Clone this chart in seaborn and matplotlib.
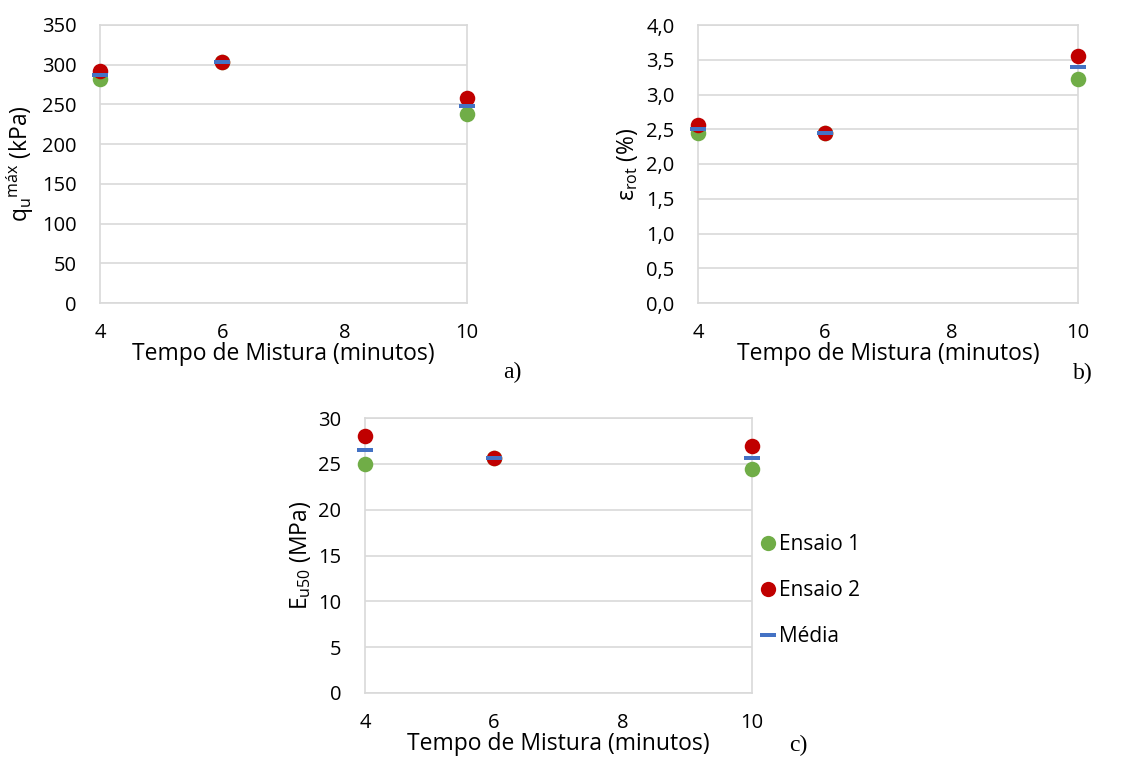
import matplotlib
matplotlib.use("Agg")
import matplotlib.pyplot as plt
import seaborn as sns
import pandas as pd
import numpy as np
from matplotlib.path import Path
from matplotlib.lines import Line2D

sns.set_theme(style="white")
plt.rcParams['font.family'] = ['Open Sans', 'DejaVu Sans']
plt.rcParams['mathtext.fontset'] = 'custom'
plt.rcParams['mathtext.rm'] = 'Open Sans'
plt.rcParams['mathtext.it'] = 'Open Sans'
plt.rcParams['text.color'] = 'black'

# ---- data ----
tempo = [4, 6, 10]
qu_ensaio1 = [282, 303, 238]
qu_ensaio2 = [292, 304, 258]
qu_media = [287, 303.5, 248]

eps_ensaio1 = [2.44, 2.44, 3.22]
eps_ensaio2 = [2.56, 2.45, 3.56]
eps_media = [2.50, 2.445, 3.39]

E_ensaio1 = [25.0, 25.6, 24.4]
E_ensaio2 = [28.0, 25.6, 26.9]
E_media = [26.5, 25.6, 25.6]

series_labels = ["Ensaio 1", "Ensaio 2", "Média"]
xlabel = "Tempo de Mistura (minutos)"

GREEN = "#70AD47"
RED = "#C00000"
BLUE = "#4472C4"
GRID = "#D9D9D9"
TXT = "#000000"

W, H = 1126, 769
fig = plt.figure(figsize=(W / 100, H / 100), dpi=100)
fig.patch.set_facecolor("white")

def add_ax(l, r, t, b):
    return fig.add_axes([l / W, 1 - b / H, (r - l) / W, (b - t) / H])

dash = Path([(-1, -0.28), (1, -0.28), (1, 0.28), (-1, 0.28), (-1, -0.28)],
            [Path.MOVETO, Path.LINETO, Path.LINETO, Path.LINETO, Path.CLOSEPOLY])

FS = 14.5
LFS = 16.5

def panel(ax, e1, e2, med, ymax, ystep, ylabel, fmt):
    df = pd.DataFrame({"x": tempo * 3,
                       "y": e1 + e2 + med,
                       "s": [series_labels[0]] * 3 + [series_labels[1]] * 3 + [series_labels[2]] * 3})
    sns.scatterplot(data=df[df.s == series_labels[0]], x="x", y="y", ax=ax, color=GREEN,
                    s=125, linewidth=0, marker="o", zorder=3, legend=False)
    sns.scatterplot(data=df[df.s == series_labels[1]], x="x", y="y", ax=ax, color=RED,
                    s=125, linewidth=0, marker="o", zorder=4, legend=False)
    sns.scatterplot(data=df[df.s == series_labels[2]], x="x", y="y", ax=ax, color=BLUE,
                    s=125, linewidth=0, marker=dash, zorder=5, legend=False)
    ax.set_xlim(4, 10)
    ax.set_ylim(0, ymax)
    ax.set_xticks([4, 6, 8, 10])
    yt = np.arange(0, ymax + ystep / 2, ystep)
    ax.set_yticks(yt)
    ax.set_yticklabels([fmt(v) for v in yt])
    ax.yaxis.grid(True, color=GRID, lw=1.2)
    ax.xaxis.grid(False)
    for sp in ax.spines.values():
        sp.set_color(GRID)
        sp.set_linewidth(1.2)
    ax.tick_params(axis="both", length=0, labelsize=FS, colors=TXT)
    ax.tick_params(axis="y", pad=17)
    ax.tick_params(axis="x", pad=14.5)
    ax.set_xlabel(xlabel, fontsize=LFS, color=TXT, labelpad=-1)
    ax.set_ylabel(ylabel, fontsize=LFS, color=TXT, labelpad=4)
    for c in ax.collections:
        c.set_clip_on(False)

ax_a = add_ax(100, 467, 25, 303)
panel(ax_a, qu_ensaio1, qu_ensaio2, qu_media, 350, 50,
      r"q$_\mathregular{u}$$^\mathregular{máx}$ (kPa)", lambda v: f"{int(v)}")

ax_b = add_ax(698, 1078, 25, 303)
panel(ax_b, eps_ensaio1, eps_ensaio2, eps_media, 4.0, 0.5,
      r"ε$_\mathregular{rot}$ (%)", lambda v: f"{v:.1f}".replace(".", ","))

ax_c = add_ax(365, 752, 418, 693)
panel(ax_c, E_ensaio1, E_ensaio2, E_media, 30, 5,
      r"E$_\mathregular{u50}$ (MPa)", lambda v: f"{int(v)}")

handles = [Line2D([], [], ls="none", marker="o", color=GREEN, markersize=11, mew=0),
           Line2D([], [], ls="none", marker="o", color=RED, markersize=11, mew=0),
           Line2D([], [], ls="none", marker=dash, color=BLUE, markersize=11, mew=0)]
fig.legend(handles, series_labels, loc="center left",
           bbox_to_anchor=(762 / W, 1 - 591 / H), frameon=False, fontsize=15, labelcolor=TXT,
           labelspacing=1.2, handlelength=0.6, handletextpad=0.2, borderpad=0, borderaxespad=0)

for txt, x, y in [("a)", 512, 372), ("b)", 1083, 373), ("c)", 798, 745)]:
    fig.text(x / W, 1 - y / H, txt, fontsize=17, family="Liberation Serif", ha="center", va="center",
             color=TXT)

fig.savefig("out.png", dpi=100, facecolor="white")
